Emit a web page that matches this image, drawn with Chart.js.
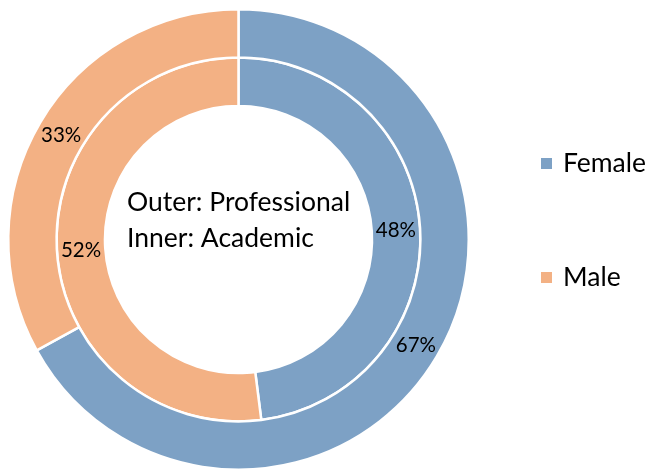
<!DOCTYPE html>
<html>
<head>
<meta charset="utf-8">
<script src="https://cdn.jsdelivr.net/npm/chart.js@4.4.1/dist/chart.umd.min.js"></script>
<style>
  html, body { margin: 0; padding: 0; background: #fff; }
</style>
</head>
<body>
<canvas id="chart" width="651" height="472"></canvas>
<script>
// data
const categories = ['Female', 'Male'];
const professional = [67, 33]; // outer ring
const academic = [48, 52];     // inner ring
const centerLines = ['Outer: Professional', 'Inner: Academic'];
const colors = ['#7DA1C5', '#F3B184'];

const FONT = 'Lato, "Open Sans", sans-serif';

// percentage labels in the middle of each arc
const arcLabels = {
  id: 'arcLabels',
  afterDatasetsDraw(chart) {
    const ctx = chart.ctx;
    ctx.save();
    ctx.font = '20.5px ' + FONT;
    ctx.fillStyle = '#000';
    ctx.textAlign = 'center';
    ctx.textBaseline = 'middle';
    chart.data.datasets.forEach((ds, i) => {
      chart.getDatasetMeta(i).data.forEach((arc, j) => {
        const p = arc.getCenterPoint();
        ctx.fillText(ds.data[j] + '%', p.x, p.y + 1);
      });
    });
    ctx.restore();
  }
};

// the two lines of text in the hole
const centerText = {
  id: 'centerText',
  afterDraw(chart) {
    const arc = chart.getDatasetMeta(0).data[0];
    const ctx = chart.ctx;
    ctx.save();
    ctx.font = '26.5px ' + FONT;
    ctx.fillStyle = '#000';
    ctx.textAlign = 'left';
    ctx.textBaseline = 'alphabetic';
    ctx.fillText(centerLines[0], arc.x - 111.5, arc.y - 29);
    ctx.fillText(centerLines[1], arc.x - 111.5, arc.y + 7);
    ctx.restore();
  }
};

// legend on the right, widely spaced like the original
const sideLegend = {
  id: 'sideLegend',
  afterDraw(chart) {
    const ctx = chart.ctx;
    const area = chart.chartArea;
    const cy = (area.top + area.bottom) / 2;
    ctx.save();
    ctx.font = '26.5px ' + FONT;
    ctx.textBaseline = 'middle';
    ctx.textAlign = 'left';
    categories.forEach((name, i) => {
      const y = cy - 76 + i * 114;
      ctx.fillStyle = colors[i];
      ctx.fillRect(area.right + 71, y - 5.5, 11, 11);
      ctx.fillStyle = '#000';
      ctx.fillText(name, area.right + 93, y);
    });
    ctx.restore();
  }
};

const ctx = document.getElementById('chart').getContext('2d');
new Chart(ctx, {
  type: 'doughnut',
  data: {
    labels: categories,
    datasets: [
      {
        label: 'Professional',
        data: professional,
        backgroundColor: colors,
        borderColor: '#fff',
        borderWidth: 2.5,
      },
      {
        label: 'Academic',
        data: academic,
        backgroundColor: colors,
        borderColor: '#fff',
        borderWidth: 2.5,
      },
    ],
  },
  options: {
    responsive: false,
    animation: false,
    devicePixelRatio: 1,
    cutout: '58%',
    layout: {
      padding: { left: 7, top: 8, right: 181, bottom: 1 },
    },
    plugins: {
      legend: { display: false },
      tooltip: { enabled: false },
    },
  },
  plugins: [arcLabels, centerText, sideLegend],
});
</script>
</body>
</html>
